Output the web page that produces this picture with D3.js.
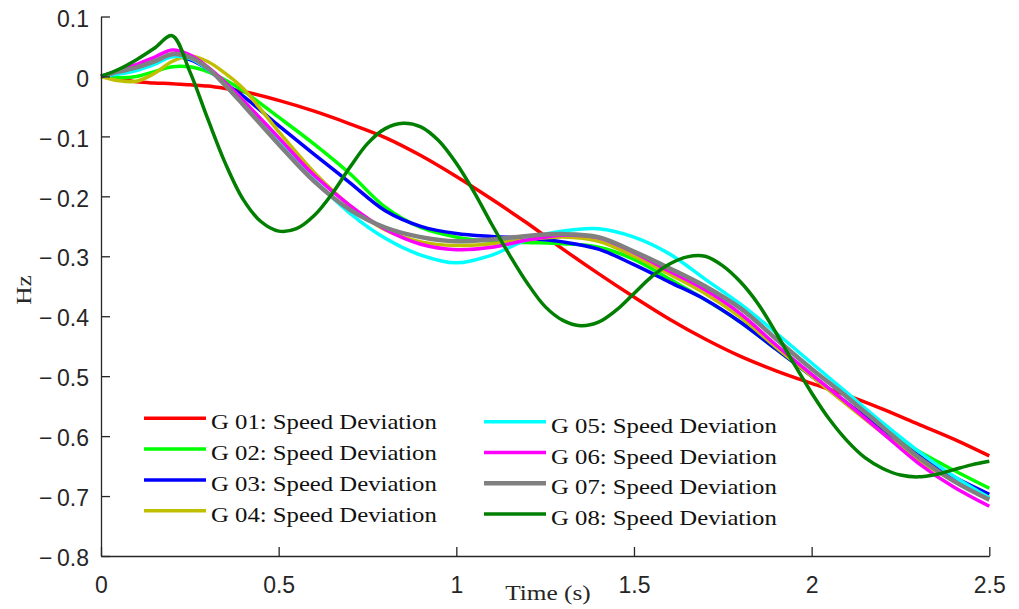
<!DOCTYPE html>
<html>
<head>
<meta charset="utf-8">
<script src="https://cdn.jsdelivr.net/npm/d3@7"></script>
<style>
  body { margin: 0; background: #fff; }
  svg { display: block; }
</style>
</head>
<body>
<svg width="1019" height="609"></svg>
<script>
// sample times shared by G01..G07
const times = [0, 0.05, 0.1, 0.15, 0.2, 0.25, 0.3, 0.35, 0.4, 0.5, 0.6, 0.7, 0.8, 0.9, 1.0,
  1.1, 1.2, 1.3, 1.4, 1.5, 1.6, 1.7, 1.8, 1.9, 2.0, 2.1, 2.2, 2.3, 2.4, 2.5];

const g01 = [0, -0.004, -0.009, -0.011, -0.012, -0.014, -0.016, -0.02, -0.025, -0.04, -0.058, -0.079, -0.102, -0.132, -0.167,
  -0.205, -0.245, -0.288, -0.329, -0.368, -0.405, -0.438, -0.467, -0.491, -0.512, -0.532, -0.555, -0.58, -0.605, -0.633];
const g02 = [0, -0.002, 0.0, 0.008, 0.016, 0.016, 0.008, -0.006, -0.024, -0.068, -0.113, -0.162, -0.218, -0.252, -0.268,
  -0.275, -0.277, -0.279, -0.285, -0.305, -0.338, -0.372, -0.41, -0.455, -0.5, -0.545, -0.588, -0.625, -0.657, -0.687];
const g03 = [0, 0.005, 0.012, 0.022, 0.034, 0.028, 0.012, -0.012, -0.033, -0.082, -0.13, -0.177, -0.224, -0.25, -0.262,
  -0.267, -0.27, -0.276, -0.288, -0.314, -0.343, -0.372, -0.41, -0.455, -0.5, -0.545, -0.59, -0.632, -0.668, -0.697];
const g04 = [0, -0.007, -0.008, 0.005, 0.025, 0.034, 0.025, 0.005, -0.02, -0.092, -0.16, -0.215, -0.256, -0.276, -0.282,
  -0.279, -0.272, -0.268, -0.275, -0.3, -0.33, -0.362, -0.402, -0.452, -0.5, -0.548, -0.595, -0.64, -0.675, -0.702];
const g05 = [0, 0.004, 0.01, 0.02, 0.033, 0.03, 0.012, -0.012, -0.04, -0.107, -0.172, -0.228, -0.27, -0.298, -0.311,
  -0.298, -0.272, -0.258, -0.254, -0.268, -0.296, -0.338, -0.38, -0.428, -0.478, -0.528, -0.578, -0.625, -0.667, -0.703];
const g06 = [0, 0.01, 0.02, 0.032, 0.044, 0.036, 0.016, -0.01, -0.04, -0.102, -0.165, -0.215, -0.255, -0.28, -0.289,
  -0.285, -0.273, -0.265, -0.269, -0.294, -0.325, -0.356, -0.396, -0.448, -0.497, -0.545, -0.595, -0.645, -0.685, -0.717];
const g07 = [0, 0.008, 0.015, 0.025, 0.037, 0.032, 0.014, -0.015, -0.047, -0.113, -0.175, -0.222, -0.252, -0.268, -0.275,
  -0.272, -0.266, -0.263, -0.268, -0.292, -0.32, -0.35, -0.387, -0.438, -0.488, -0.535, -0.585, -0.635, -0.675, -0.706];

// G08 oscillates more, so it has its own finer sampling
const times08 = [0, 0.05, 0.1, 0.15, 0.2, 0.25, 0.3, 0.35, 0.4, 0.45, 0.5, 0.55, 0.6, 0.65, 0.7, 0.75, 0.8, 0.85, 0.9, 0.95,
  1.0, 1.05, 1.1, 1.15, 1.2, 1.25, 1.3, 1.35, 1.4, 1.45, 1.5, 1.55, 1.6, 1.65, 1.7, 1.75, 1.8, 1.85, 1.9, 1.95,
  2.0, 2.05, 2.1, 2.15, 2.2, 2.25, 2.3, 2.35, 2.4, 2.45, 2.5];
const g08 = [0, 0.012, 0.028, 0.047, 0.068, 0.008, -0.07, -0.145, -0.205, -0.242, -0.258, -0.254, -0.232, -0.196, -0.152,
  -0.112, -0.087, -0.078, -0.084, -0.107, -0.145, -0.193, -0.247, -0.298, -0.345, -0.384, -0.407, -0.416, -0.41, -0.39,
  -0.362, -0.334, -0.313, -0.301, -0.3, -0.316, -0.343, -0.38, -0.428, -0.479, -0.528, -0.572, -0.608, -0.636, -0.654,
  -0.665, -0.668, -0.664, -0.656, -0.648, -0.642];

const names = ["G 01: Speed Deviation", "G 02: Speed Deviation", "G 03: Speed Deviation", "G 04: Speed Deviation",
  "G 05: Speed Deviation", "G 06: Speed Deviation", "G 07: Speed Deviation", "G 08: Speed Deviation"];
const colors = ["#ff0000", "#00ff00", "#0000ff", "#bfbf00", "#00ffff", "#ff00ff", "#808080", "#007f00"];
const widths = [3.5, 3.5, 3.5, 3.5, 3.5, 3.5, 4.5, 3.5];

const yTicks = [0.1, 0, -0.1, -0.2, -0.3, -0.4, -0.5, -0.6, -0.7, -0.8];
const xTicks = [0, 0.5, 1, 1.5, 2, 2.5];

const series = [g01, g02, g03, g04, g05, g06, g07].map((v, i) => ({
  name: names[i], color: colors[i], width: widths[i],
  pts: v.map((d, j) => [times[j], d])
}));
series.push({ name: names[7], color: colors[7], width: widths[7], pts: g08.map((d, j) => [times08[j], d]) });

const svg = d3.select("svg");
const ink = "#262626";

const x = d3.scaleLinear().domain([0, 2.5]).range([101, 989.3]);
const y = d3.scaleLinear().domain([-0.8, 0.1]).range([556, 16.5]);

// lines
const line = d3.line()
    .x(d => x(d[0]))
    .y(d => y(d[1]))
    .curve(d3.curveCatmullRom.alpha(0.5));

svg.append("g").selectAll("path")
    .data(series)
    .join("path")
    .attr("d", d => line(d.pts))
    .attr("fill", "none")
    .attr("stroke", d => d.color)
    .attr("stroke-width", d => d.width)
    .attr("stroke-linejoin", "round");

// axes, ticks pointing inwards
const fmtY = d => d === 0 ? "0" : (d < 0 ? "\u2212\u2009" : "") + d3.format(".1f")(Math.abs(d));
const yAxis = svg.append("g")
    .attr("transform", "translate(101,0)")
    .call(d3.axisLeft(y).tickValues(yTicks).tickFormat(fmtY).tickSizeInner(-9).tickSizeOuter(0).tickPadding(12));
const xAxis = svg.append("g")
    .attr("transform", "translate(0,556)")
    .call(d3.axisBottom(x).tickValues(xTicks).tickFormat(d3.format("~g")).tickSizeInner(-9).tickSizeOuter(0).tickPadding(20.5));

[yAxis, xAxis].forEach(a => {
  a.select(".domain").attr("stroke", ink).attr("stroke-width", 1.3);
  a.selectAll(".tick line").attr("stroke", ink).attr("stroke-width", 1.3);
  a.selectAll(".tick text")
      .attr("fill", ink)
      .style("font-family", "'Liberation Sans', Arial, sans-serif")
      .style("font-size", "23px");
});
yAxis.selectAll(".tick text").attr("dy", "0.42em");

// axis titles
const serif = "'Liberation Serif', 'Times New Roman', serif";
svg.append("text")
    .attr("transform", "translate(548,600) scale(1.15,1)")
    .attr("text-anchor", "middle")
    .style("font-family", serif)
    .style("font-size", "22px")
    .attr("fill", ink)
    .text("Time (s)");

svg.append("text")
    .attr("transform", "translate(31,290) rotate(-90) scale(1.15,1)")
    .attr("text-anchor", "middle")
    .style("font-family", serif)
    .style("font-size", "22px")
    .attr("fill", ink)
    .text("Hz");

// legend, two columns of four
const legend = svg.append("g");
series.forEach((s, i) => {
  const col = Math.floor(i / 4), row = i % 4;
  const x0 = col === 0 ? 144 : 484;
  const y0 = (col === 0 ? 418.3 : 421.7) + row * 30.8;
  legend.append("line")
      .attr("x1", x0).attr("x2", x0 + 62)
      .attr("y1", y0).attr("y2", y0)
      .attr("stroke", s.color)
      .attr("stroke-width", s.width);
  legend.append("text")
      .attr("transform", `translate(${x0 + 67},${y0 + 11}) scale(1.15,1)`)
      .style("font-family", serif)
      .style("font-size", "21.5px")
      .attr("fill", "#111")
      .text(s.name);
});
</script>
</body>
</html>
